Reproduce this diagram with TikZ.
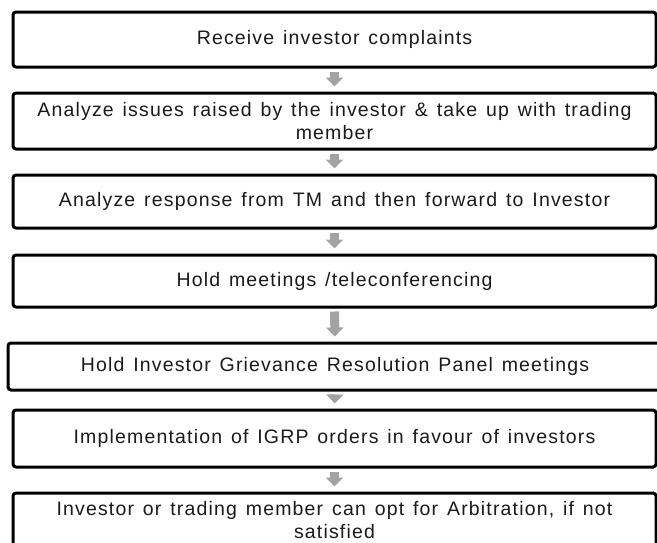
\documentclass[tikz,border=0pt]{standalone}
\usepackage{fontspec}
\setmainfont{Liberation Sans}
\newfontfamily\stagefont[LetterSpace=6,WordSpace=1.35]{Liberation Sans}
\usetikzlibrary{arrows.meta}
\definecolor{flowgray}{HTML}{A3A3A3}
\definecolor{inkblack}{HTML}{1A1A1A}
\begin{document}
\begin{tikzpicture}[x=1pt,y=-1pt,
  stage/.style={draw=black, line width=3pt, rounded corners=3pt, inner sep=0pt,
    minimum width=643pt, align=center, text=inkblack,
    font=\stagefont\fontsize{19.5}{23}\selectfont},
  flow/.style={draw=flowgray, line width=9pt,
    -{Triangle[width=17pt,length=9pt]}, shorten <=3pt, shorten >=5pt}
]
\useasboundingbox (0,0) rectangle (657,542);
\clip (0,0) rectangle (657,542);

% process stages, top to bottom
\node[stage, minimum height=55pt] (s1) at (334.5,39.5) {Receive investor complaints};
\node[stage, minimum height=56pt] (s2) at (334.5,121) {Analyze issues raised by the investor \& take up with trading\\member};
\node[stage, minimum height=53pt] (s3) at (334.5,201.5) {Analyze response from TM and then forward to Investor};
\node[stage, minimum height=52pt] (s4) at (334.5,281) {Hold meetings /teleconferencing};
\node[stage, minimum height=47pt, minimum width=654pt] (s5) at (335,366.5) {Hold Investor Grievance Resolution Panel meetings};
\node[stage, minimum height=57pt] (s6) at (334.5,438.5) {Implementation of IGRP orders in favour of investors};
\node[stage, minimum height=54pt] (s7) at (334.5,520) {Investor or trading member can opt for Arbitration, if not\\satisfied};

% block arrows between stages
\draw[flow] (s1.south) -- (s2.north);
\draw[flow] (s2.south) -- (s3.north);
\draw[flow] (s3.south) -- (s4.north);
\draw[flow] (s4.south) -- (s5.north);
\draw[flow] (s5.south) -- (s6.north);
\draw[flow] (s6.south) -- (s7.north);
\end{tikzpicture}
\end{document}
